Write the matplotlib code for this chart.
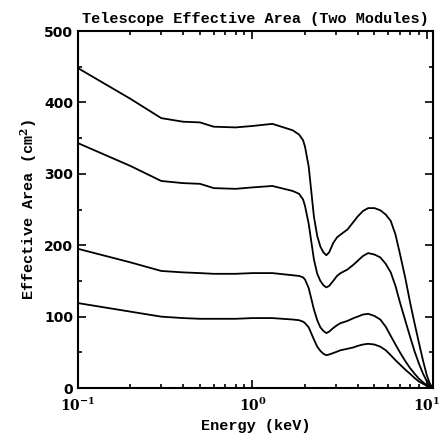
#! /usr/bin/env python3
"""Telescope effective area for two modules, four curves vs energy."""
import matplotlib
matplotlib.use('Agg')
import matplotlib.pyplot as plt
from matplotlib.ticker import LogLocator, MultipleLocator, NullFormatter

# energy grid (keV)
energy = [0.1, 0.2, 0.3, 0.4, 0.5, 0.6, 0.8, 1.0, 1.3, 1.7,
          1.85, 1.95, 2.0, 2.1, 2.25, 2.35, 2.45, 2.55, 2.65, 2.75,
          2.9, 3.05, 3.2, 3.5, 3.8, 4.0, 4.3, 4.6, 5.0, 5.4,
          5.8, 6.2, 6.6, 7.0, 7.5, 8.0, 8.5, 9.0, 9.5, 10.0,
          10.4, 10.8]

area_1 = [448, 405, 378, 373, 372, 366, 365, 367, 370, 361,
          355, 347, 338, 310, 240, 213, 198, 190, 186, 190,
          203, 211, 215, 222, 233, 240, 248, 252, 252, 249,
          243, 234, 215, 188, 155, 120, 90, 63, 38, 17,
          6, 0]
area_2 = [343, 311, 290, 287, 286, 280, 279, 281, 283, 276,
          272, 264, 255, 230, 180, 160, 150, 144, 141, 143,
          150, 157, 161, 166, 173, 178, 185, 189, 187, 183,
          174, 162, 143, 120, 95, 72, 51, 34, 20, 9,
          3, 0]
area_3 = [195, 176, 164, 162, 161, 160, 160, 161, 161, 158,
          157, 155, 152, 140, 110, 95, 85, 80, 77, 79,
          84, 88, 91, 94, 98, 100, 103, 104, 101, 96,
          86, 73, 61, 50, 38, 28, 20, 13, 8, 4,
          1.5, 0]
area_4 = [119, 107, 100, 98, 97, 97, 97, 98, 98, 96,
          95, 93, 91, 85, 68, 58, 52, 48, 46, 47,
          49, 51, 53, 55, 57, 59, 61, 62, 61, 58,
          53, 46, 39, 33, 26, 20, 14, 9, 6, 3,
          1, 0]

y_ticks = [0, 100, 200, 300, 400, 500]
x_ticks = [0.1, 1, 10]
x_labels = ['$\\mathbf{10^{-1}}$', '$\\mathbf{10^{0}}$', '$\\mathbf{10^{1}}$']

plt.rcParams['mathtext.fontset'] = 'dejavuserif'

fig = plt.figure(figsize=(4.43, 4.43), dpi=100)
ax = fig.add_axes([0.176, 0.124, 0.801, 0.806])

for curve in (area_1, area_2, area_3, area_4):
    ax.plot(energy, curve, color='black', lw=1.3)

ax.set_xscale('log')
ax.set_xlim(0.1, 10.8)
ax.set_ylim(0, 500)
ax.set_xticks(x_ticks)
ax.set_xticklabels(x_labels)
ax.xaxis.set_minor_locator(LogLocator(base=10, subs=range(2, 10)))
ax.xaxis.set_minor_formatter(NullFormatter())
ax.set_yticks(y_ticks)
ax.yaxis.set_minor_locator(MultipleLocator(50))

ax.tick_params(which='both', direction='in', top=True, right=True, width=1.2)
ax.tick_params(which='major', length=6, labelsize=10)
ax.tick_params(which='minor', length=3)
ax.tick_params(axis='x', pad=6)
for lbl in ax.get_yticklabels():
    lbl.set_fontweight('bold')
for sp in ax.spines.values():
    sp.set_linewidth(1.5)

mono = 'Liberation Mono'
ax.set_title('Telescope Effective Area (Two Modules)', family=mono,
             fontweight='bold', fontsize=11, pad=6)
ax.set_xlabel('Energy (keV)', family=mono, fontweight='bold', fontsize=11)
ax.set_ylabel('Effective Area (cm$^\\mathbf{2}$)', family=mono,
              fontweight='bold', fontsize=11)

fig.savefig('out.png', dpi=100)
